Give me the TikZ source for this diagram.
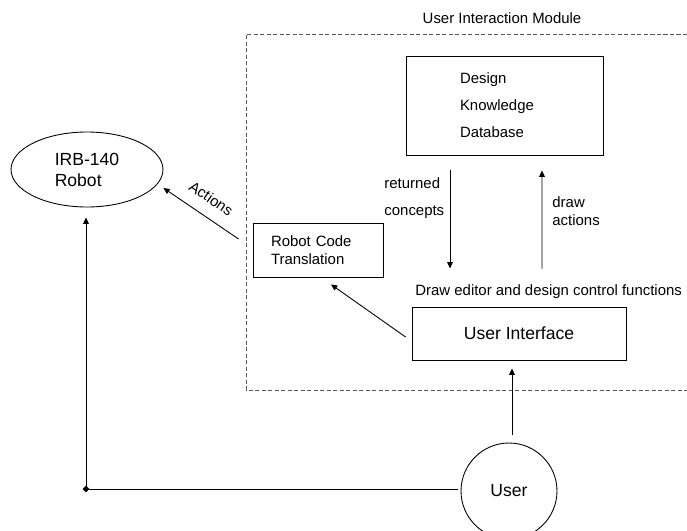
\documentclass[tikz,border=0pt]{standalone}
\usepackage{fontspec}
\setmainfont{Liberation Sans}
\usetikzlibrary{arrows.meta,shapes.geometric,calc}
\begin{document}
\begin{tikzpicture}[x=0.02cm,y=-0.02cm,line width=0.5pt,
	arr/.style={-{Triangle[length=3.6pt,width=3.2pt]}},
	lbl/.style={font=\fontsize{8.5}{10.2}\selectfont,inner sep=0pt},
	blk/.style={draw,rectangle,inner ysep=0pt,align=left},
	big/.style={font=\fontsize{10}{12}\selectfont}]
	\useasboundingbox (0,0) rectangle (687,531);
	\draw[gray!70!black,dash pattern=on 2.3pt off 1.4pt] (687,34) -- (246,34) -- (246,390) -- (687,390);
	\node[lbl] (modtitle) at (502,18) {User Interaction Module};
	\node[draw,ellipse,minimum width=3.04cm,minimum height=1.5cm,align=left,big] (robot) at (87,169.5) {IRB-140\\Robot};
	\node[blk,font=\fontsize{8.5}{15.4}\selectfont,text width=1.78cm,inner xsep=1.08cm,minimum height=1.98cm] (db) at (504.5,105.5) {Design\\Knowledge\\Database};
	\node[blk,font=\fontsize{8.5}{10.2}\selectfont,text width=1.88cm,inner xsep=0.36cm,minimum height=1.08cm] (rct) at (318,250) {Robot Code\\Translation};
	\node[draw,minimum width=4.28cm,minimum height=1.06cm,big] (ui) at (519,333.5) {User Interface};
	\node[draw,circle,minimum size=1.92cm,big] (user) at (509,491) {User};
	\node[diamond,fill,inner sep=0pt,minimum size=0.14cm] (jn) at (86,489) {};
	\node[lbl,anchor=west] (dedit) at (415,292) {Draw editor and design control functions};
	\node[lbl,anchor=west,align=left,font=\fontsize{8.5}{15.4}\selectfont] (retc) at (384,198.5) {returned\\concepts};
	\node[lbl,anchor=west,align=left] (dract) at (552,211) {draw\\actions};
	\draw[arr] ($(rct.west)+(-14,-11)$) -- node[lbl,sloped,above=7pt] (actlbl) {Actions} ($(robot.east)+(0,18.5)$);
	\draw[arr] ($(ui.west)+(-6,3.5)$) -- ($(rct.south)+(13,7)$);
	\draw[arr] ($(db.south)+(-54.5,15)$) -- ($(db.south)+(-54.5,113)$);
	\draw[arr] ($(ui.north)+(23,-38)$) -- ($(db.south)+(37.5,15)$);
	\draw[arr] ($(user.north)+(3,-8)$) -- ($(ui.south)+(-7,8)$);
	\draw ($(user.west)+(-3,-2)$) -- (jn.center);
	\draw[arr] (jn.center) -- ($(robot.south)+(-1,10)$);
\end{tikzpicture}
\end{document}
